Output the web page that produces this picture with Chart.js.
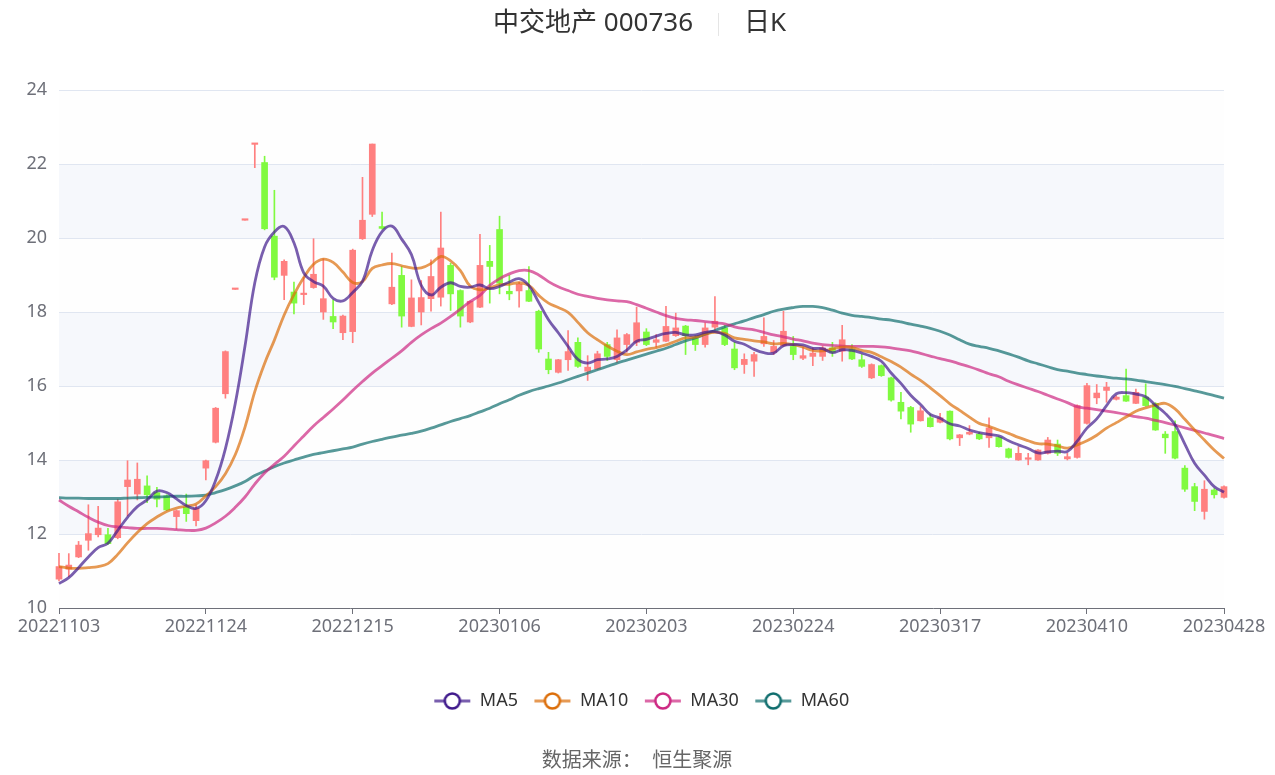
<!DOCTYPE html>
<html lang="zh">
  <head>
    <meta charset="UTF-8" />
    <title>中交地产 000736 日K</title>
    <script src="https://cdn.jsdelivr.net/npm/chart.js"></script>
    <style>
      html,
      body {
        margin: 0;
        padding: 0;
        background: #fff;
      }
      #kChart {
        display: block;
      }
    </style>
  </head>
  <body>
    <canvas id="kChart" width="1275" height="775"></canvas>
    <script>
      // trading days shown on the x axis
      const dates = [
        "20221103", "20221104", "20221107", "20221108", "20221109", "20221110", "20221111",
        "20221114", "20221115", "20221116", "20221117", "20221118", "20221121", "20221122",
        "20221123", "20221124", "20221125", "20221128", "20221129", "20221130",
        "20221201", "20221202", "20221205", "20221206", "20221207", "20221208", "20221209",
        "20221212", "20221213", "20221214", "20221215", "20221216", "20221219", "20221220",
        "20221221", "20221222", "20221223", "20221226", "20221227", "20221228", "20221229",
        "20221230",
        "20230103", "20230104", "20230105", "20230106", "20230109", "20230110", "20230111",
        "20230112", "20230113", "20230116", "20230117", "20230118", "20230119", "20230120",
        "20230130", "20230131",
        "20230201", "20230202", "20230203", "20230206", "20230207", "20230208", "20230209",
        "20230210", "20230213", "20230214", "20230215", "20230216", "20230217", "20230220",
        "20230221", "20230222", "20230223", "20230224", "20230227", "20230228",
        "20230301", "20230302", "20230303", "20230306", "20230307", "20230308", "20230309",
        "20230310", "20230313", "20230314", "20230315", "20230316", "20230317", "20230320",
        "20230321", "20230322", "20230323", "20230324", "20230327", "20230328", "20230329",
        "20230330", "20230331",
        "20230403", "20230404", "20230406", "20230407", "20230410", "20230411", "20230412",
        "20230413", "20230414", "20230417", "20230418", "20230419", "20230420", "20230421",
        "20230424", "20230425", "20230426", "20230427", "20230428",
      ];

      // dates that get an axis label
      const xTickDates = [
        "20221103", "20221124", "20221215", "20230106", "20230203",
        "20230224", "20230317", "20230410", "20230428",
      ];

      const openP = [
        10.78, 11.05, 11.38, 11.83, 11.98, 11.98, 11.9, 13.28, 13.08, 13.3,
        13.12, 13.03, 12.47, 12.73, 12.36, 13.78, 14.48, 15.79, 18.61, 20.48,
        22.53, 22.04, 20.05, 18.99, 18.54, 18.47, 18.66, 18.0, 17.88, 17.44,
        17.47, 19.98, 20.64, 20.31, 18.22, 18.99, 17.61, 18.0, 18.36, 18.4,
        19.26, 18.58, 17.73, 18.13, 19.37, 20.23, 18.56, 18.57, 18.58, 18.02,
        16.73, 16.37, 16.71, 17.18, 16.4, 16.46, 17.12, 16.71, 17.12, 17.18,
        17.46, 17.18, 17.21, 17.36, 17.62, 17.3, 17.12, 17.59, 17.57, 17.0,
        16.58, 16.67, 17.14, 16.91, 17.09, 17.07, 16.75, 16.8, 16.8, 17.03,
        16.94, 17.0, 16.71, 16.22, 16.55, 16.22, 15.56, 15.42, 15.06, 15.14,
        15.02, 15.32, 14.6, 14.7, 14.7, 14.6, 14.61, 14.3, 14.0, 14.02,
        14.0, 14.18, 14.43, 14.03, 14.07, 14.99, 15.68, 15.88, 15.64, 15.74,
        15.53, 15.7, 15.53, 14.7, 14.77, 13.78, 13.28, 12.61, 13.19, 12.99,
      ];
      const highP = [
        11.48, 11.47, 11.8, 12.79, 12.75, 12.15, 12.94, 13.98, 13.92, 13.57,
        13.26, 13.06, 12.65, 13.08, 12.79, 14.0, 15.42, 16.95, 18.61, 20.48,
        22.53, 22.21, 21.29, 19.41, 18.81, 18.94, 19.98, 19.44, 18.33, 17.92,
        19.7, 21.64, 22.54, 20.7, 19.59, 19.23, 18.87, 18.85, 19.41, 20.7,
        19.32, 18.6, 18.3, 20.1, 19.8, 20.59, 18.99, 18.81, 19.23, 18.05,
        16.91, 16.72, 17.5, 17.3, 16.82, 16.94, 17.18, 17.52, 17.42, 18.13,
        17.55, 17.39, 18.15, 17.97, 17.64, 17.36, 17.7, 18.42, 17.64, 17.18,
        16.87, 16.91, 17.84, 17.23, 18.02, 17.34, 17.05, 17.03, 17.07, 17.18,
        17.64, 17.12, 16.85, 16.6, 16.57, 16.24, 15.83, 15.45, 15.44, 15.23,
        15.26, 15.33, 14.69, 14.93, 14.75, 15.14, 14.63, 14.32, 14.36, 14.18,
        14.28, 14.61, 14.54, 14.18, 15.49, 16.07, 16.04, 16.1, 15.74, 16.46,
        15.92, 16.06, 15.55, 14.77, 15.06, 13.85, 13.37, 13.44, 13.23, 13.3,
      ];
      const lowP = [
        10.73, 10.85, 11.36, 11.56, 11.92, 11.72, 11.87, 12.49, 12.92, 12.85,
        12.73, 12.63, 12.13, 12.34, 12.22, 13.46, 14.46, 15.67, 18.61, 20.48,
        21.9, 20.22, 18.87, 18.33, 17.95, 18.2, 18.64, 17.8, 17.55, 17.25,
        17.17, 19.96, 20.58, 20.24, 18.2, 17.59, 17.6, 17.65, 18.02, 18.16,
        18.04, 17.59, 17.71, 18.12, 18.24, 18.49, 18.33, 18.13, 18.28, 16.91,
        16.33, 16.35, 16.42, 16.5, 16.15, 16.44, 16.69, 16.64, 16.91, 17.09,
        17.09, 17.05, 17.2, 17.34, 16.85, 16.96, 17.05, 17.52, 17.09, 16.44,
        16.34, 16.26, 17.07, 16.85, 17.07, 16.71, 16.71, 16.55, 16.69, 16.8,
        16.67, 16.71, 16.5, 16.2, 16.26, 15.59, 15.11, 14.75, 15.05, 14.89,
        15.0, 14.54, 14.39, 14.68, 14.55, 14.34, 14.35, 14.05, 13.99, 13.87,
        13.99, 14.16, 14.12, 14.0, 14.05, 14.97, 15.52, 15.56, 15.62, 15.58,
        15.52, 15.45, 14.8, 14.18, 14.03, 13.15, 12.63, 12.4, 12.97, 12.97,
      ];
      const closeP = [
        11.12, 11.16, 11.7, 12.01, 12.16, 11.74, 12.87, 13.46, 13.48, 13.06,
        12.94, 12.65, 12.63, 12.55, 12.69, 13.98, 15.4, 16.93, 18.61, 20.48,
        22.53, 20.25, 18.94, 19.37, 18.24, 18.51, 19.02, 18.36, 17.73, 17.89,
        19.67, 20.48, 22.54, 20.26, 18.67, 17.89, 18.38, 18.39, 18.96, 19.73,
        18.49, 17.89, 18.29, 19.26, 19.23, 18.78, 18.49, 18.75, 18.29, 17.0,
        16.44, 16.71, 16.93, 16.53, 16.51, 16.87, 16.8, 17.3, 17.39, 17.71,
        17.12, 17.25, 17.61, 17.57, 17.36, 17.12, 17.57, 17.75, 17.12, 16.49,
        16.72, 16.85, 17.34, 17.07, 17.48, 16.85, 16.82, 16.89, 17.03, 16.91,
        17.25, 16.73, 16.53, 16.58, 16.28, 15.62, 15.32, 14.97, 15.33, 14.9,
        15.14, 14.57, 14.68, 14.75, 14.57, 14.87, 14.36, 14.07, 14.18, 14.05,
        14.27, 14.54, 14.18, 14.09, 15.47, 16.01, 15.81, 15.97, 15.7, 15.59,
        15.83, 15.47, 14.81, 14.6, 14.05, 13.21, 12.88, 13.21, 13.06, 13.28,
      ];

      const ma5 = [
        10.66, 10.82, 11.09, 11.38, 11.63, 11.75, 12.1, 12.45, 12.74, 12.92,
        13.16, 13.12, 12.95, 12.77, 12.69, 12.9, 13.45, 14.31, 15.52, 17.08,
        18.79, 19.76, 20.16, 20.31, 19.87, 19.06, 18.82, 18.7, 18.37, 18.3,
        18.53, 18.83, 19.66, 20.17, 20.32, 19.97, 19.55, 18.72, 18.46, 18.67,
        18.79, 18.69, 18.67, 18.73, 18.63, 18.69, 18.81, 18.9, 18.71, 18.26,
        17.79, 17.44, 17.07, 16.72, 16.62, 16.71, 16.73, 16.8, 16.97, 17.21,
        17.26, 17.35, 17.42, 17.45, 17.38, 17.38, 17.45, 17.47, 17.38, 17.21,
        17.13, 16.99, 16.9, 16.89, 17.09, 17.12, 17.11, 17.02, 17.01, 16.9,
        16.98, 16.96, 16.89, 16.8, 16.67, 16.35, 16.07, 15.75, 15.5, 15.23,
        15.13, 14.98, 14.92, 14.81, 14.74, 14.69, 14.65, 14.52, 14.41, 14.31,
        14.19, 14.22, 14.24, 14.23, 14.51, 14.86, 15.11, 15.47, 15.79, 15.82,
        15.78, 15.71, 15.48, 15.26, 14.95, 14.43, 13.91, 13.59, 13.28, 13.13,
      ];
      const ma10 = [
        11.12, 11.08, 11.07, 11.09, 11.12, 11.2, 11.45, 11.76, 12.04, 12.28,
        12.46, 12.61, 12.7, 12.75, 12.81, 13.03, 13.28, 13.63, 14.14, 14.89,
        15.85, 16.61, 17.24, 17.92, 18.47, 18.93, 19.29, 19.43, 19.34, 19.08,
        18.8, 18.82, 19.18, 19.27, 19.31, 19.25, 19.19, 19.19, 19.31, 19.5,
        19.38, 19.12, 18.7, 18.6, 18.65, 18.74, 18.75, 18.79, 18.72, 18.45,
        18.24, 18.12, 17.99, 17.72, 17.44, 17.25, 17.08, 16.94, 16.85, 16.92,
        16.99, 17.04, 17.11, 17.21, 17.3, 17.32, 17.4, 17.45, 17.42, 17.3,
        17.26, 17.22, 17.19, 17.14, 17.15, 17.12, 17.05, 16.96, 16.95, 17.0,
        17.05, 17.04, 16.96, 16.91, 16.79, 16.66, 16.51, 16.32, 16.15, 15.95,
        15.74, 15.52, 15.34, 15.16, 14.99, 14.91, 14.81, 14.72, 14.61, 14.52,
        14.44, 14.43, 14.38, 14.32, 14.41, 14.52, 14.67, 14.86, 15.01, 15.16,
        15.32, 15.41, 15.48, 15.53, 15.38, 15.1, 14.81, 14.54, 14.27, 14.04,
      ];
      const ma30 = [
        12.92, 12.75, 12.6, 12.45, 12.32, 12.23, 12.19, 12.17, 12.15, 12.15,
        12.15, 12.14, 12.12, 12.1, 12.1, 12.16, 12.3, 12.48, 12.72, 13.0,
        13.35, 13.65, 13.88, 14.1, 14.38, 14.65, 14.92, 15.15, 15.38, 15.62,
        15.88, 16.12, 16.35, 16.55, 16.75, 16.95, 17.18, 17.38, 17.55, 17.7,
        17.88, 18.08, 18.28, 18.45, 18.72, 18.9, 19.03, 19.12, 19.12, 19.0,
        18.82, 18.68, 18.58, 18.48, 18.42, 18.37, 18.33, 18.3, 18.28, 18.2,
        18.1, 18.0, 17.9, 17.83, 17.79, 17.77, 17.74, 17.71, 17.68, 17.6,
        17.55, 17.52, 17.45, 17.38, 17.33, 17.27, 17.22, 17.16, 17.12, 17.1,
        17.08, 17.07, 17.07, 17.07, 17.06, 17.03, 16.99, 16.95, 16.88, 16.81,
        16.74, 16.68, 16.6, 16.52, 16.43, 16.33, 16.25, 16.13, 16.03, 15.94,
        15.85, 15.75, 15.65, 15.55, 15.44, 15.4, 15.36, 15.32, 15.28, 15.23,
        15.17, 15.13, 15.07, 15.01, 14.94, 14.87, 14.8, 14.73, 14.66, 14.58,
      ];
      const ma60 = [
        12.98, 12.97, 12.97, 12.96, 12.96, 12.96, 12.96, 12.97, 12.98, 12.99,
        13.0, 13.01, 13.02, 13.02, 13.03, 13.05, 13.12, 13.2, 13.3, 13.42,
        13.58, 13.7, 13.82, 13.92, 14.0, 14.08, 14.15, 14.2, 14.25, 14.3,
        14.35, 14.43, 14.5, 14.56, 14.62, 14.67, 14.72, 14.78, 14.86, 14.95,
        15.04, 15.12, 15.2, 15.3, 15.4, 15.52, 15.63, 15.75, 15.85, 15.93,
        16.0, 16.08, 16.17, 16.26, 16.35, 16.44, 16.53, 16.62, 16.7, 16.78,
        16.86, 16.94, 17.02, 17.12, 17.22, 17.3, 17.4, 17.5, 17.6, 17.68,
        17.76, 17.85, 17.93, 18.02, 18.08, 18.12, 18.15, 18.15, 18.12, 18.05,
        17.97, 17.91, 17.88, 17.85, 17.81, 17.78, 17.73, 17.67, 17.62, 17.56,
        17.48, 17.38, 17.25, 17.13, 17.07, 17.02, 16.95, 16.87, 16.78, 16.68,
        16.6, 16.52, 16.44, 16.4, 16.35, 16.31, 16.27, 16.24, 16.21, 16.19,
        16.16, 16.12, 16.08, 16.04, 15.99, 15.93, 15.87, 15.81, 15.74, 15.67,
      ];

      const FONT = "'Noto Sans', 'Noto Sans CJK SC', sans-serif";
      const UP = "rgb(255,128,128)";
      const DOWN = "rgb(128,250,64)";
      const candleColors = closeP.map((c, i) => (c >= openP[i] ? UP : DOWN));

      // legend symbol: line with a hollow circle on it
      function legendIcon(line, dot) {
        const c = document.createElement("canvas");
        c.width = 38;
        c.height = 20;
        const g = c.getContext("2d");
        g.strokeStyle = line;
        g.lineWidth = 3;
        g.beginPath();
        g.moveTo(1, 10);
        g.lineTo(37, 10);
        g.stroke();
        g.beginPath();
        g.arc(19, 10, 7.5, 0, Math.PI * 2);
        g.fillStyle = "#fff";
        g.fill();
        g.strokeStyle = dot;
        g.lineWidth = 2.5;
        g.stroke();
        return c;
      }

      function maLine(label, data, line, dot) {
        return {
          type: "line",
          label: label,
          data: data,
          borderColor: line,
          backgroundColor: line,
          borderWidth: 2.8,
          pointRadius: 0,
          pointHoverRadius: 0,
          pointStyle: legendIcon(line, dot),
          tension: 0.4,
          fill: false,
          order: 1,
        };
      }

      // alternating split areas behind the grid
      const bandPlugin = {
        id: "bands",
        beforeDraw(chart) {
          const { ctx, chartArea: a } = chart;
          const y = chart.scales.y;
          ctx.save();
          for (let v = 10, k = 0; v < 24; v += 2, k++) {
            const top = y.getPixelForValue(v + 2);
            const bot = y.getPixelForValue(v);
            ctx.fillStyle = k % 2 ? "rgba(210,219,238,0.2)" : "rgba(250,250,250,0.2)";
            ctx.fillRect(a.left, top, a.right - a.left, bot - top);
          }
          ctx.restore();
        },
      };

      // title on top, source line at the bottom
      const textPlugin = {
        id: "texts",
        afterDraw(chart) {
          const ctx = chart.ctx;
          ctx.save();
          ctx.textBaseline = "middle";
          ctx.fillStyle = "#333";
          ctx.font = "26px " + FONT;
          ctx.textAlign = "right";
          ctx.fillText("中交地产 000736", 693, 24);
          ctx.textAlign = "left";
          ctx.fillText("日K", 744, 24);
          ctx.strokeStyle = "#e5e5e5";
          ctx.lineWidth = 1;
          ctx.beginPath();
          ctx.moveTo(718.5, 13);
          ctx.lineTo(718.5, 36);
          ctx.stroke();
          ctx.fillStyle = "#666";
          ctx.font = "20px " + FONT;
          ctx.textAlign = "center";
          ctx.fillText("数据来源：  恒生聚源", 637, 761);
          ctx.restore();
        },
      };

      new Chart(document.getElementById("kChart"), {
        type: "bar",
        data: {
          labels: dates,
          datasets: [
            {
              type: "bar",
              label: "wick",
              data: lowP.map((l, i) => [l, highP[i]]),
              backgroundColor: candleColors,
              barThickness: 1,
              grouped: false,
              clip: false,
              order: 3,
            },
            {
              type: "bar",
              label: "body",
              data: openP.map((o, i) => [o, closeP[i]]),
              backgroundColor: candleColors,
              barThickness: 6,
              minBarLength: 1.5,
              grouped: false,
              clip: false,
              order: 2,
            },
            maLine("MA5", ma5, "rgba(64,26,140,0.7)", "rgb(64,26,140)"),
            maLine("MA10", ma10, "rgba(220,110,10,0.7)", "rgb(220,110,10)"),
            maLine("MA30", ma30, "rgba(205,40,130,0.7)", "rgb(205,40,130)"),
            maLine("MA60", ma60, "rgba(16,110,110,0.7)", "rgb(16,110,110)"),
          ],
        },
        options: {
          responsive: false,
          animation: false,
          events: [],
          layout: {
            padding: { left: 0, right: 51, top: 90, bottom: 55 },
          },
          scales: {
            x: {
              type: "category",
              offset: false,
              afterBuildTicks: (scale) => {
                scale.ticks = scale.ticks.filter((t) => xTickDates.includes(dates[t.value]));
              },
              afterFit: (scale) => {
                scale.height = 68;
              },
              grid: {
                display: true,
                offset: false,
                drawOnChartArea: false,
                drawTicks: true,
                tickLength: 6,
                color: "#6E7079",
              },
              border: { display: true, color: "#6E7079", width: 1 },
              ticks: {
                autoSkip: false,
                maxRotation: 0,
                padding: 2,
                color: "#6E7079",
                font: { size: 18, family: FONT },
              },
            },
            y: {
              min: 10,
              max: 24,
              afterFit: (scale) => {
                scale.width = 59;
              },
              grid: { color: "#E0E6F1", drawTicks: false },
              border: { display: false },
              ticks: {
                stepSize: 2,
                padding: 12,
                color: "#6E7079",
                font: { size: 18, family: FONT },
              },
            },
          },
          plugins: {
            title: { display: false },
            tooltip: { enabled: false },
            legend: {
              display: true,
              position: "bottom",
              fullSize: false,
              labels: {
                usePointStyle: true,
                pointStyleWidth: 37,
                padding: 16,
                color: "#333",
                font: { size: 18, family: FONT },
                filter: (item, data) => data.datasets[item.datasetIndex].type === "line",
              },
            },
          },
        },
        plugins: [bandPlugin, textPlugin],
      });
    </script>
  </body>
</html>
